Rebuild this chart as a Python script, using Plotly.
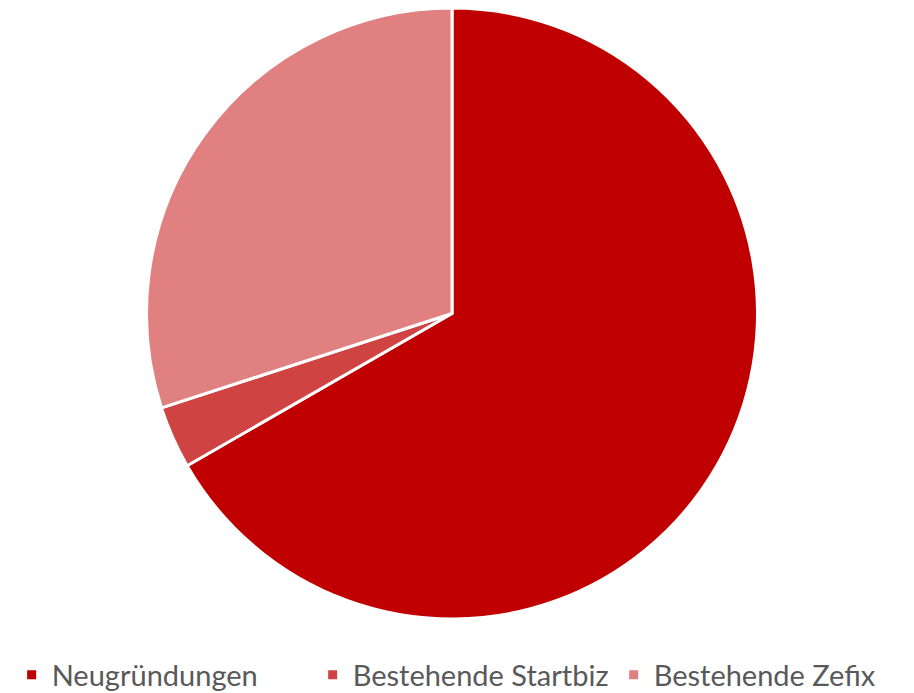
import plotly.graph_objects as go

labels = ["Neugründungen", "Bestehende Startbiz", "Bestehende Zefix"]
values = [66.7, 3.3, 30.0]
colors = ["#C00000", "#D04343", "#E08080"]

fig = go.Figure()
fig.add_trace(go.Pie(
    labels=labels,
    values=values,
    sort=False,
    direction="clockwise",
    rotation=0,
    textinfo="none",
    hoverinfo="label+percent",
    marker=dict(colors=colors, line=dict(color="white", width=3)),
    domain=dict(x=[135 / 914, 753 / 914], y=[82 / 693, 1.0]),
))

fig.update_layout(
    width=914,
    height=693,
    margin=dict(l=0, r=0, t=0, b=0),
    paper_bgcolor="white",
    plot_bgcolor="white",
    showlegend=True,
    legend=dict(
        orientation="h",
        x=0.004,
        xanchor="left",
        y=26 / 693,
        yanchor="middle",
        font=dict(family="Lato", size=29, color="#595959"),
        entrywidth=256,
        entrywidthmode="pixels",
    ),
)

fig.write_html("out.html")
